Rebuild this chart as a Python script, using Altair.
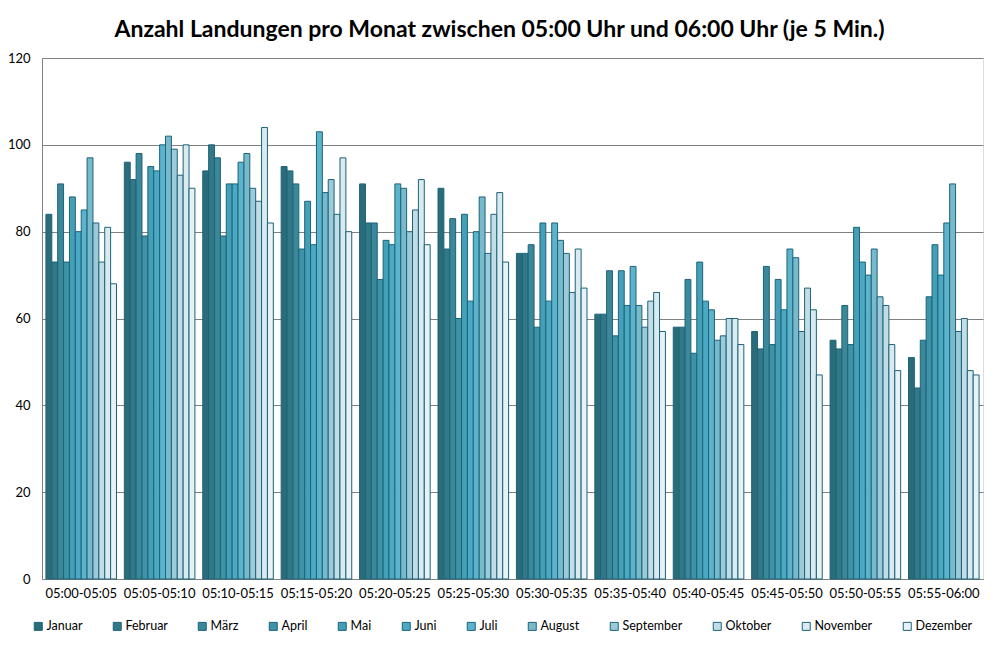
import altair as alt
import pandas as pd

slots = ["05:00-05:05", "05:05-05:10", "05:10-05:15", "05:15-05:20",
         "05:20-05:25", "05:25-05:30", "05:30-05:35", "05:35-05:40",
         "05:40-05:45", "05:45-05:50", "05:50-05:55", "05:55-06:00"]
months = ["Januar", "Februar", "März", "April", "Mai", "Juni", "Juli",
          "August", "September", "Oktober", "November", "Dezember"]

januar = [84, 96, 94, 95, 91, 90, 75, 61, 58, 57, 55, 51]
februar = [73, 92, 100, 94, 82, 76, 75, 61, 58, 53, 53, 44]
maerz = [91, 98, 97, 91, 82, 83, 77, 71, 69, 72, 63, 55]
april = [73, 79, 79, 76, 69, 60, 58, 56, 52, 54, 54, 65]
mai = [88, 95, 91, 87, 78, 84, 82, 71, 73, 69, 81, 77]
juni = [80, 94, 91, 77, 77, 64, 64, 63, 64, 62, 73, 70]
juli = [85, 100, 96, 103, 91, 80, 82, 72, 62, 76, 70, 82]
august = [97, 102, 98, 89, 90, 88, 78, 63, 55, 74, 76, 91]
september = [82, 99, 90, 92, 80, 75, 75, 58, 56, 57, 65, 57]
oktober = [73, 93, 87, 84, 85, 84, 66, 64, 60, 67, 63, 60]
november = [81, 100, 104, 97, 92, 89, 76, 66, 60, 62, 54, 48]
dezember = [68, 90, 82, 80, 77, 73, 67, 57, 54, 47, 48, 47]

series = [januar, februar, maerz, april, mai, juni, juli, august,
          september, oktober, november, dezember]

colors = ["#2b6c7b", "#327886", "#3a8899", "#3f93a6", "#43a0b6", "#4ba9c3",
          "#5cb4cc", "#79b9cc", "#9dcad8", "#c3dde6", "#d9eaf0", "#e7f2f6"]

rows = []
for m, vals in zip(months, series):
    for s, v in zip(slots, vals):
        rows.append({"Zeit": s, "Monat": m, "Anzahl": v})
df = pd.DataFrame(rows)

FONT = "Lato"

chart = alt.Chart(df).mark_bar(stroke="#1d6379", strokeWidth=1).encode(
    x=alt.X("Zeit:N", sort=slots,
            scale=alt.Scale(paddingInner=0.1, paddingOuter=0.05),
            axis=alt.Axis(title=None, labelAngle=0, labelFont=FONT,
                          labelFontSize=13, labelColor="#000000",
                          domainColor="#808080", ticks=False, labelPadding=8)),
    xOffset=alt.XOffset("Monat:N", sort=months,
                        scale=alt.Scale(paddingInner=0, paddingOuter=0)),
    y=alt.Y("Anzahl:Q", scale=alt.Scale(domain=[0, 120]),
            axis=alt.Axis(title=None, values=[0, 20, 40, 60, 80, 100, 120],
                          labelFont=FONT, labelFontSize=13, labelColor="#000000",
                          gridColor="#808080", gridWidth=1, domainColor="#808080",
                          ticks=False, labelPadding=12)),
    color=alt.Color("Monat:N", sort=months,
                    scale=alt.Scale(domain=months, range=colors),
                    legend=alt.Legend(title=None, orient="none", legendX=-10, legendY=562,
                                      direction="horizontal", columns=12,
                                      columnPadding=28, symbolType="square",
                                      symbolSize=64, symbolStrokeColor="#1d6379",
                                      symbolStrokeWidth=1, labelFont=FONT,
                                      labelFontSize=12.5, labelColor="#000000",
                                      labelOffset=2)),
).properties(
    width=941, height=521,
    title=alt.TitleParams("Anzahl Landungen pro Monat zwischen 05:00 Uhr und 06:00 Uhr (je 5 Min.)",
                          font=FONT, fontSize=23, fontWeight="bold", color="#000000",
                          anchor="middle", dx=-13, offset=10),
    padding={"left": 34, "top": 50, "right": 9, "bottom": 61},
    autosize="none",
).configure_view(
    fill="#e9f0f4", stroke="#7f7f7f", strokeWidth=1
).configure(background="#ffffff")

chart.save("out.html", embed_options={"renderer": "svg", "actions": False})
